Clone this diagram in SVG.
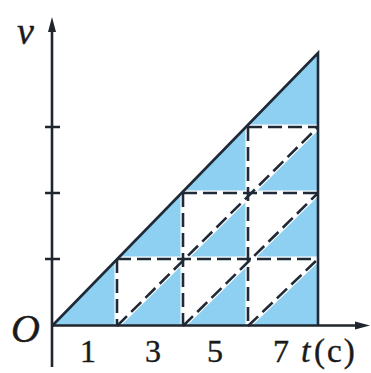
<svg xmlns="http://www.w3.org/2000/svg" width="371" height="373" viewBox="0 0 371 373">
<style>
.ax{stroke:#1f262d;stroke-width:2.6;fill:none}
.edge{stroke:#1f2a36;stroke-width:2.6;fill:none}
.halo{stroke:#ffffff;stroke-width:5;fill:none}
.dash{stroke:#1f2a36;stroke-width:2.6;fill:none;stroke-dasharray:14 6}
.lbl{font-family:"Liberation Serif",serif;fill:#1a1a1a;stroke:#1a1a1a;stroke-width:0.4}
.it{font-style:italic}
</style>
<rect width="371" height="373" fill="#ffffff"/>
<g id="area">
<polygon points="52,326 318,326 318,53" fill="#8dd0f2"/>
<g fill="#ffffff">
<polygon points="117,326 117,259 183,259"/>
<polygon points="183,326 183,259 248,259"/>
<polygon points="248,326 248,259 318,259"/>
<polygon points="183,259 183,193 248,193"/>
<polygon points="248,259 248,193 318,193"/>
<polygon points="248,193 248,127 318,127"/>
</g>
</g>
<g id="connectors">
<g class="halo">
<path d="M117,259H318M183,193H318M248,127H318M117,259V326M183,193V326M248,127V326M117,326L318,127M183,326L318,193M248,326L318,259"/>
</g>
<g class="dash">
<path d="M117,259H318M183,193H318M248,127H318"/>
<path d="M117,259V326M183,193V326M248,127V326"/>
<path d="M117,326L318,127M183,326L318,193M248,326L318,259"/>
</g>
<path class="edge" d="M52,326L318,53V326"/>
<path class="ax" d="M52,367V28"/>
<polygon points="52,17 48,32 56,32" fill="#1f262d"/>
<path class="ax" d="M52,325.5H358"/>
<polygon points="370,325.5 355,321.5 355,329.5" fill="#1f262d"/>
<path class="ax" d="M45,127H60M45,193H60M45,259H60"/>
</g>
<g id="labels">
<text class="lbl it" x="17" y="44" font-size="38">v</text>
<text class="lbl it" x="11" y="342" font-size="40">O</text>
<text class="lbl" x="88" y="362" font-size="32" text-anchor="middle">1</text>
<text class="lbl" x="153" y="362" font-size="32" text-anchor="middle">3</text>
<text class="lbl" x="215" y="362" font-size="32" text-anchor="middle">5</text>
<text class="lbl" x="281" y="362" font-size="32" text-anchor="middle">7</text>
<text class="lbl it" x="301" y="362" font-size="34">t</text>
<text class="lbl" x="314" y="362" font-size="33" letter-spacing="2">(c)</text>
</g>
</svg>
